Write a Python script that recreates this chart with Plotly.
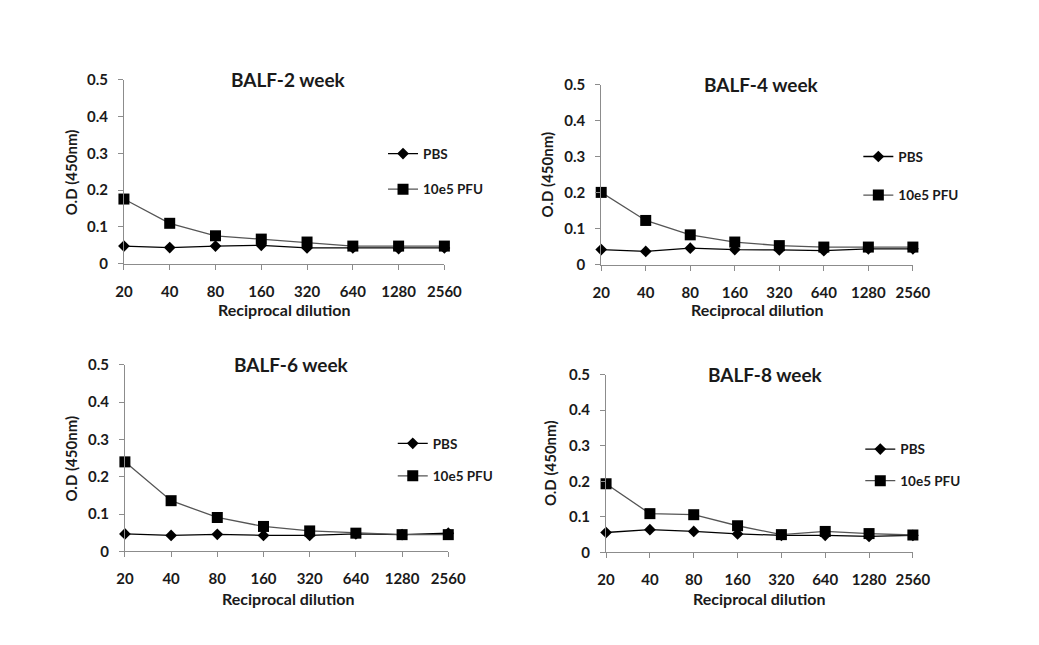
import plotly.graph_objects as go

W, H = 1039, 645

dilutions = ["20", "40", "80", "160", "320", "640", "1280", "2560"]
y_ticks = [0, 0.1, 0.2, 0.3, 0.4, 0.5]
y_tick_labels = ["0", "0.1", "0.2", "0.3", "0.4", "0.5"]

titles = ["BALF-2 week", "BALF-4 week", "BALF-6 week", "BALF-8 week"]
series_names = ["PBS", "10e5 PFU"]

pbs_2wk = [0.048, 0.044, 0.048, 0.050, 0.043, 0.043, 0.041, 0.043]
pfu_2wk = [0.176, 0.110, 0.076, 0.067, 0.059, 0.048, 0.048, 0.048]

pbs_4wk = [0.042, 0.037, 0.046, 0.042, 0.041, 0.039, 0.044, 0.044]
pfu_4wk = [0.201, 0.123, 0.083, 0.063, 0.053, 0.049, 0.049, 0.049]

pbs_6wk = [0.047, 0.043, 0.046, 0.043, 0.043, 0.047, 0.045, 0.049]
pfu_6wk = [0.240, 0.136, 0.091, 0.067, 0.055, 0.049, 0.045, 0.045]

pbs_8wk = [0.056, 0.064, 0.059, 0.052, 0.048, 0.048, 0.045, 0.048]
pfu_8wk = [0.193, 0.109, 0.106, 0.075, 0.050, 0.059, 0.053, 0.049]

panels_pbs = [pbs_2wk, pbs_4wk, pbs_6wk, pbs_8wk]
panels_pfu = [pfu_2wk, pfu_4wk, pfu_6wk, pfu_8wk]

# layout in pixels: (x_left, x_right, y_zero, y_top)
boxes = [(118, 447, 261, 72), (608, 928, 262, 77), (119, 451, 557, 365), (613, 928, 558, 375)]
title_pos = [(287, 72), (773, 77), (290, 365), (777, 375)]
xtitle_pos = [(282, 308), (768, 308), (286, 605), (770, 605)]
ytitle_x = [63, 552, 64, 556]
legend_pos = [(426, 143, 34), (914, 146, 37), (436, 441, 31), (916, 447, 30)]

FONT = "Lato"
fig = go.Figure()
annotations = []

for i in range(4):
    ax = "" if i == 0 else str(i + 1)
    leg = "legend" if i == 0 else f"legend{i + 1}"
    fig.add_trace(go.Scatter(
        x=dilutions, y=panels_pbs[i], name=series_names[0], mode="lines+markers",
        xaxis="x" + ax, yaxis="y" + ax, legend=leg, legendgroup=f"a{i}",
        line=dict(color="#000000", width=1.3),
        marker=dict(symbol="diamond", size=9, color="#000000"),
        cliponaxis=False,
    ))
    fig.add_trace(go.Scatter(
        x=dilutions, y=panels_pfu[i], name=series_names[1], mode="lines+markers",
        xaxis="x" + ax, yaxis="y" + ax, legend=leg, legendgroup=f"b{i}",
        line=dict(color="#555555", width=1.3),
        marker=dict(symbol="square", size=11, color="#000000"),
        cliponaxis=False,
    ))
    xl, xr, y0, yt = boxes[i]
    fig.layout["xaxis" + ax] = dict(
        domain=[xl / W, xr / W], anchor="y" + ax, type="category",
        range=[0, 7], showline=True, linecolor="#8c8c8c", linewidth=1,
        ticks="outside", ticklen=5, tickcolor="#8c8c8c", showgrid=False,
        zeroline=False, ticklabelstandoff=9,
        tickfont=dict(family=FONT, size=15, color="#1a1a1a", weight="bold"),
    )
    fig.layout["yaxis" + ax] = dict(
        domain=[1 - y0 / H, 1 - yt / H], anchor="x" + ax, range=[0, 0.5],
        tickvals=y_ticks, ticktext=y_tick_labels, showline=True,
        linecolor="#8c8c8c", linewidth=1, ticks="outside", ticklen=5,
        tickcolor="#8c8c8c", showgrid=False, zeroline=False, ticklabelstandoff=7,
        tickfont=dict(family=FONT, size=15, color="#1a1a1a", weight="bold"),
    )
    tx, ty = title_pos[i]
    annotations.append(dict(text=titles[i], x=tx / W, y=1 - ty / H, xref="paper", yref="paper",
                            showarrow=False, xanchor="center", yanchor="middle",
                            font=dict(family=FONT, size=19, color="#1a1a1a", weight="bold")))
    ax_x, ax_y = xtitle_pos[i]
    annotations.append(dict(text="Reciprocal dilution", x=ax_x / W, y=1 - ax_y / H,
                            xref="paper", yref="paper", showarrow=False,
                            xanchor="center", yanchor="middle",
                            font=dict(family=FONT, size=16, color="#1a1a1a", weight="bold")))
    annotations.append(dict(text="O.D (450nm)", x=ytitle_x[i] / W, y=1 - ((y0 + yt) / 2) / H,
                            xref="paper", yref="paper", showarrow=False, textangle=-90,
                            xanchor="center", yanchor="middle",
                            font=dict(family=FONT, size=15, color="#1a1a1a", weight="bold")))
    lx, ly, gap = legend_pos[i]
    fig.layout[leg] = dict(
        x=(lx - 42) / W, y=1 - (ly - 11) / H, xanchor="left", yanchor="top",
        bgcolor="rgba(0,0,0,0)", tracegroupgap=gap - 19, itemwidth=30,
        font=dict(family=FONT, size=13.5, color="#1a1a1a", weight="bold"),
    )

fig.update_layout(
    width=W, height=H, margin=dict(l=0, r=0, t=0, b=0),
    paper_bgcolor="white", plot_bgcolor="white",
    annotations=annotations, showlegend=True,
)

fig.write_html("out.html")
